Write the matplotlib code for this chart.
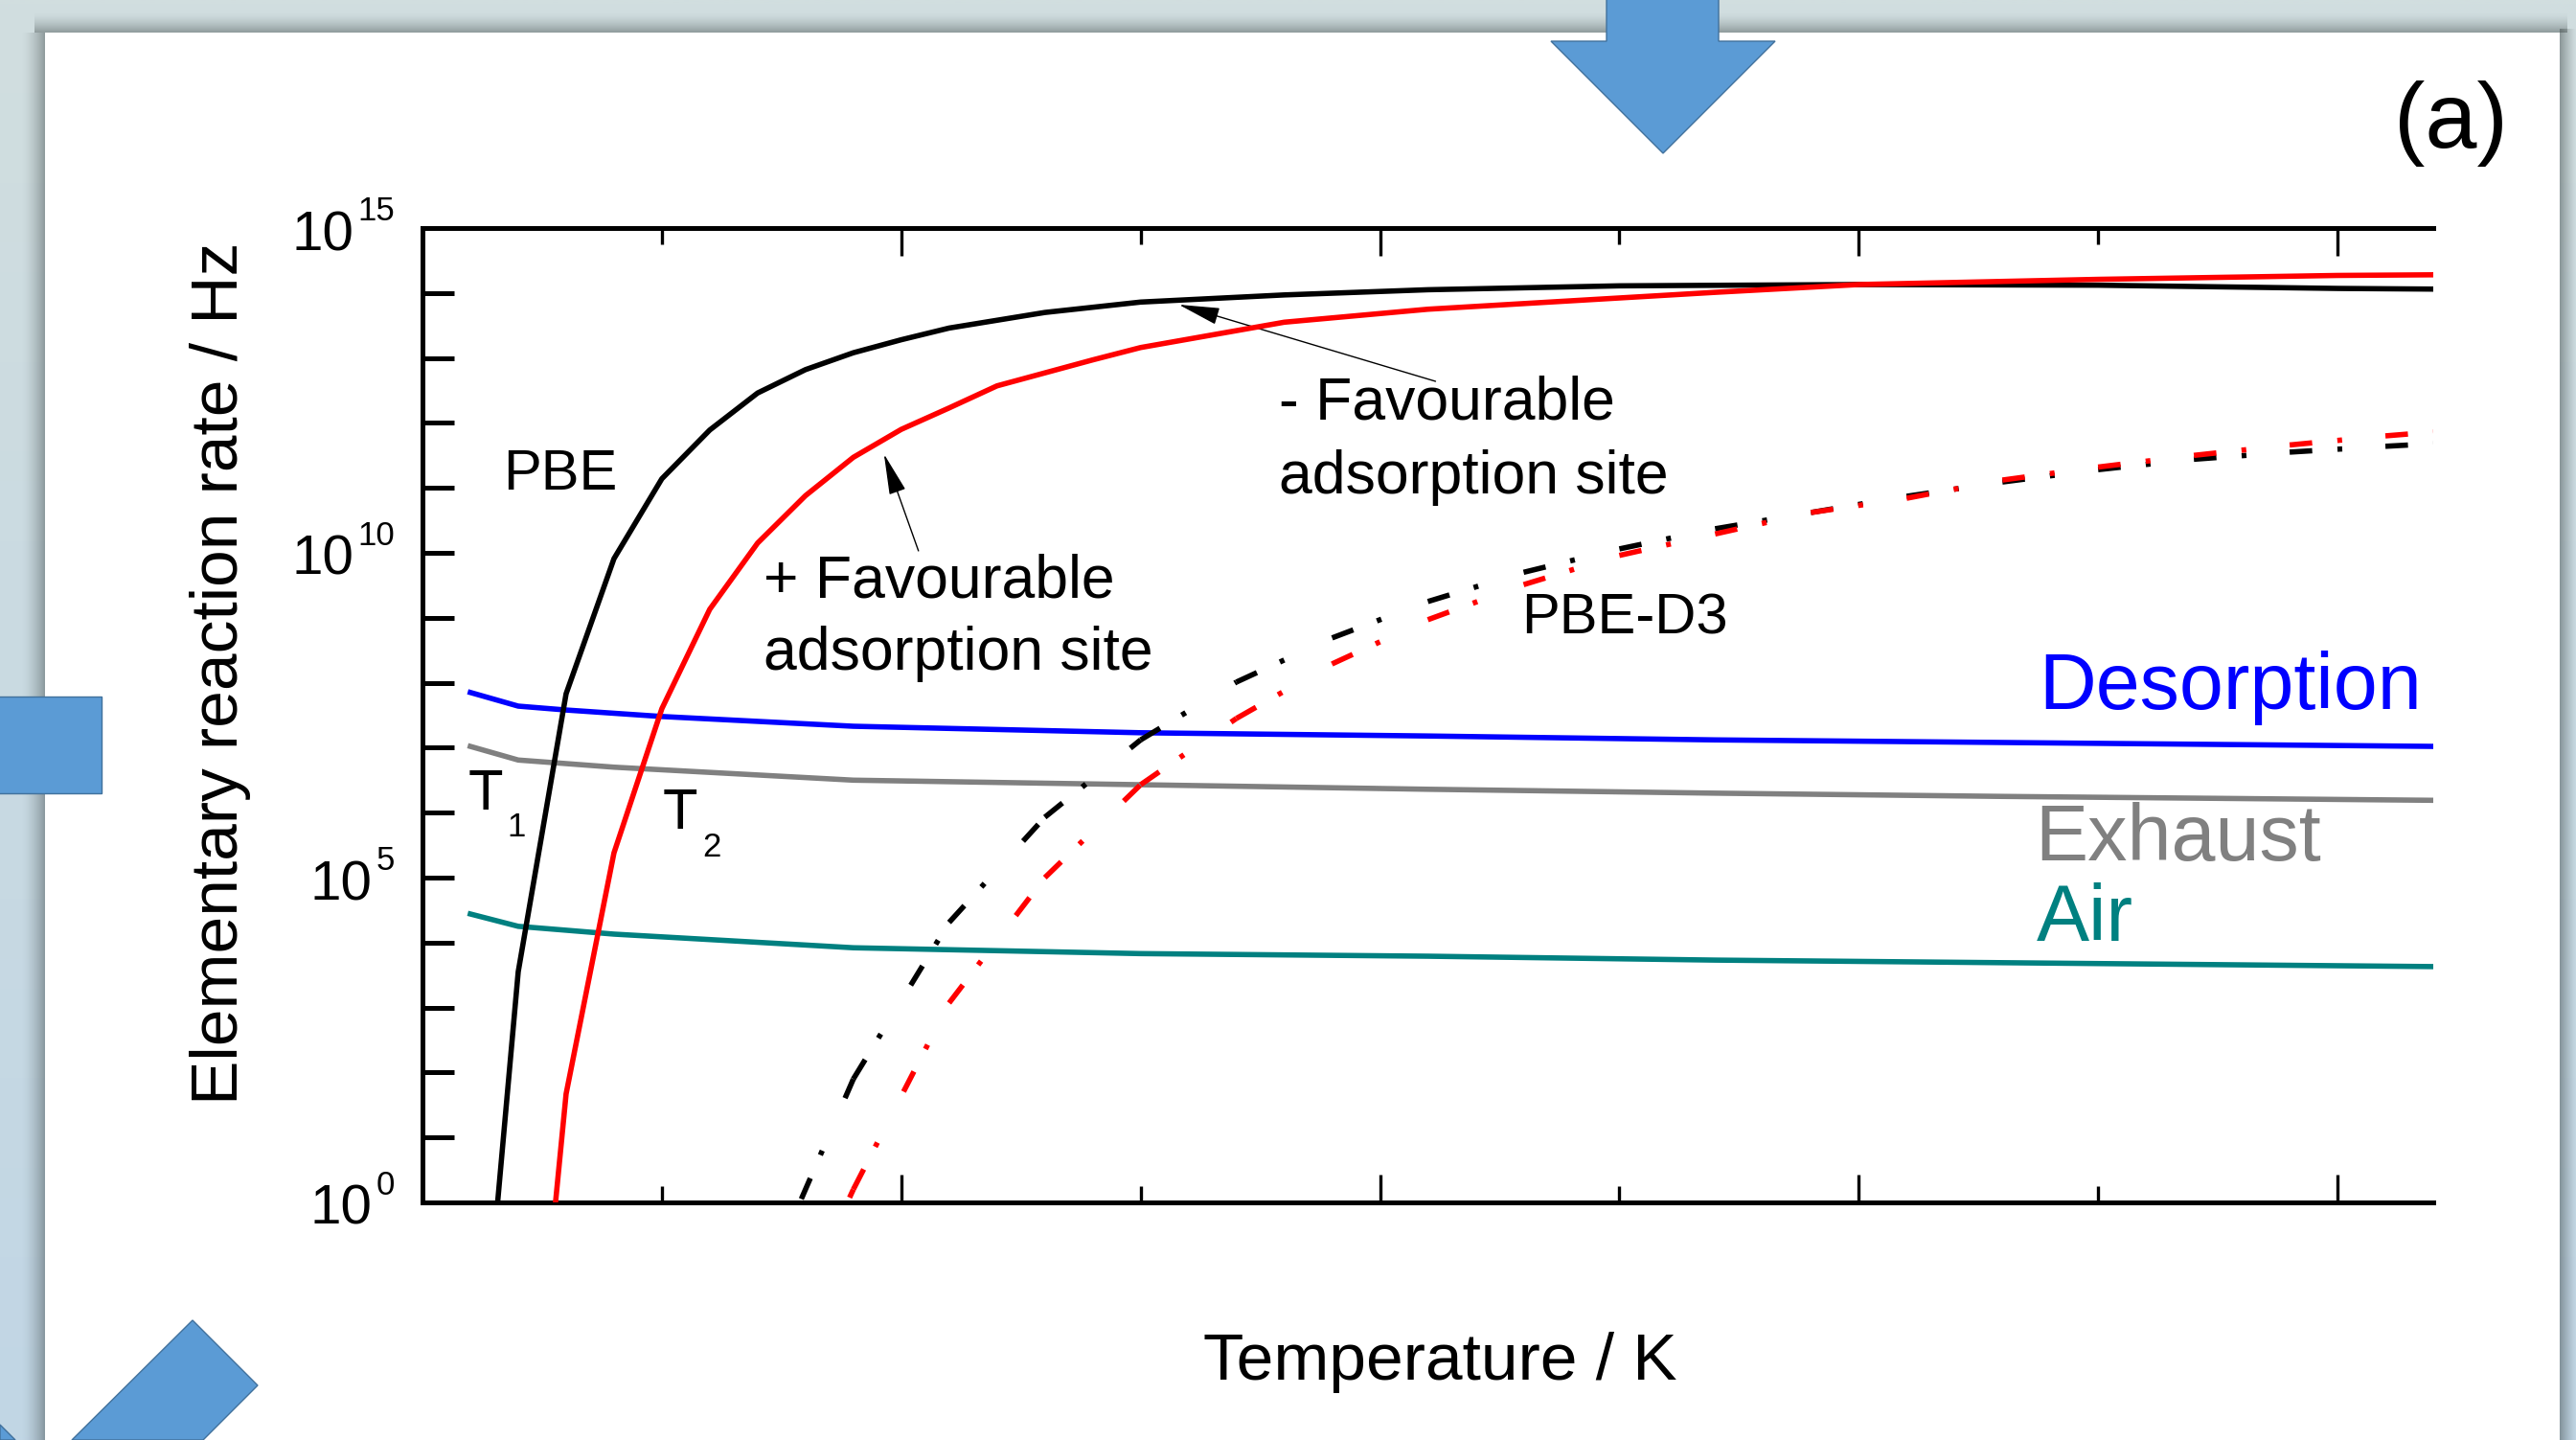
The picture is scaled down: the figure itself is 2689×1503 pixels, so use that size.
import numpy as np
import matplotlib
matplotlib.use("Agg")
import matplotlib.pyplot as plt
from matplotlib.patches import Rectangle, Polygon
from matplotlib.ticker import MultipleLocator, NullLocator, FixedLocator
from matplotlib.transforms import offset_copy

# ---------------- data (temperature in K, rate given as log10 of Hz) ----------------
# PBE, "- favourable adsorption site" (black solid)
T_pbe_minus = [25, 50, 75, 100, 125, 150, 175, 200, 225, 250, 275, 325, 375, 450, 525, 625, 750, 875, 1000, 1050]
lg_pbe_minus = [-4.7, 3.55, 7.83, 9.91, 11.14, 11.89, 12.46, 12.82, 13.08, 13.28, 13.46, 13.70, 13.86,
                13.97, 14.05, 14.11, 14.13, 14.12, 14.07, 14.06]
# PBE, "+ favourable adsorption site" (red solid)
T_pbe_plus = [50, 75, 100, 125, 150, 175, 200, 225, 250, 275, 300, 350, 375, 450, 525, 600, 675, 750, 875, 1000, 1050]
lg_pbe_plus = [-5.9, 1.67, 5.38, 7.60, 9.13, 10.15, 10.88, 11.47, 11.90, 12.23, 12.57, 12.97, 13.16,
               13.55, 13.75, 13.88, 14.01, 14.13, 14.21, 14.27, 14.28]
# PBE-D3 (dash-dot), black = - favourable, red = + favourable
T_d3 = [175, 225, 275, 325, 375, 425, 475, 525, 575, 625, 675, 725, 775, 825, 875, 925, 975, 1025, 1050]
lg_d3_minus = [-1.5, 1.90, 4.31, 5.93, 7.12, 8.01, 8.69, 9.25, 9.70, 10.06, 10.37, 10.62, 10.87,
               11.09, 11.28, 11.44, 11.55, 11.64, 11.68]
lg_d3_plus = [-3.0, 0.20, 3.07, 5.00, 6.43, 7.45, 8.29, 8.97, 9.51, 9.96, 10.29, 10.62, 10.84,
              11.12, 11.32, 11.50, 11.66, 11.80, 11.86]
# reference rates
T_desorption = [25, 50, 75, 125, 225, 375, 525, 675, 825, 1050]
lg_desorption = [7.85, 7.64, 7.58, 7.48, 7.33, 7.23, 7.18, 7.12, 7.08, 7.02]
T_exhaust = [25, 50, 100, 225, 375, 525, 675, 825, 1050]
lg_exhaust = [7.02, 6.81, 6.70, 6.50, 6.43, 6.36, 6.30, 6.25, 6.19]
T_air = [25, 50, 100, 225, 375, 525, 675, 825, 1050]
lg_air = [4.44, 4.25, 4.13, 3.92, 3.83, 3.79, 3.73, 3.69, 3.63]

ytick_exponents = [0, 5, 10, 15]

# ---------------- styling ----------------
W, H = 2689, 1503
plt.rcParams['font.family'] = ['Liberation Sans', 'DejaVu Sans']
plt.rcParams['lines.scale_dashes'] = False

fig = plt.figure(figsize=(W / 100, H / 100), dpi=100)
fig.patch.set_facecolor('#d1dddf')

def fx(x):
    return x / W

def fy(y):
    return 1 - y / H

# slide background gradient
bg_ax = fig.add_axes([0, 0, 1, 1], zorder=-10)
grad = np.zeros((200, 2, 3))
top_c = np.array([209, 222, 223]) / 255
bot_c = np.array([193, 214, 229]) / 255
for i in range(200):
    t = i / 199
    grad[i, :, :] = top_c * (1 - t) + bot_c * t
bg_ax.imshow(grad, aspect='auto', extent=[0, 1, 0, 1], interpolation='bilinear')
bg_ax.axis('off')

shadow_c = (0.18, 0.22, 0.22)
for y0 in range(12, 34):
    a = 0.42 * ((y0 - 12) / 22) ** 1.6
    fig.patches.append(Rectangle((fx(36), fy(y0 + 1)), fx(2680) - fx(36), 1 / H, transform=fig.transFigure,
                                 color=shadow_c, alpha=a, lw=0, zorder=-8))
for x0 in range(22, 47):
    a = 0.42 * ((x0 - 22) / 25) ** 1.6
    fig.patches.append(Rectangle((fx(x0), 0), 1 / W, fy(34), transform=fig.transFigure,
                                 color=shadow_c, alpha=a, lw=0, zorder=-8))
for x0 in range(2672, 2689):
    a = 0.42 * (1 - (x0 - 2672) / 17) ** 1.3
    fig.patches.append(Rectangle((fx(x0), 0), 1 / W, fy(30), transform=fig.transFigure,
                                 color=shadow_c, alpha=a, lw=0, zorder=-8))

# white slide panel
fig.patches.append(Rectangle((fx(47), 0), fx(2672) - fx(47), fy(34), transform=fig.transFigure,
                             facecolor='white', edgecolor='none', zorder=-6))

# decorative blue shapes
blue = '#5b9bd5'
edge = '#41719c'
shapes = [
    [(1677, -5), (1794, -5), (1794, 43), (1853, 43), (1736, 160), (1619, 43), (1677, 43)],
    [(-5, 727), (106, 727), (106, 828), (-5, 828)],
    [(75, 1503), (201, 1378), (269, 1446), (212, 1503)],
    [(0, 1487), (16, 1503), (0, 1503)],
]
for pts in shapes:
    fig.patches.append(Polygon([(fx(x), fy(y)) for x, y in pts], closed=True, transform=fig.transFigure,
                               facecolor=blue, edgecolor=edge, lw=1, zorder=5))

# ---------------- axes ----------------
ax = fig.add_axes([fx(441), fy(1255), fx(2540) - fx(441), fy(238) - fy(1255)], zorder=0)
ax.set_yscale('log')
ax.set_xlim(0, 1050)
ax.set_ylim(1, 1e15)

lw = 4.0
ax.plot(T_desorption, 10 ** np.array(lg_desorption), color='#0000ff', lw=lw, zorder=2)
ax.plot(T_exhaust, 10 ** np.array(lg_exhaust), color='#808080', lw=lw, zorder=2)
ax.plot(T_air, 10 ** np.array(lg_air), color='#008080', lw=lw, zorder=2)

ax.plot(T_pbe_minus, 10 ** np.array(lg_pbe_minus), color='black', lw=lw, zorder=3)
ax.plot(T_pbe_plus, 10 ** np.array(lg_pbe_plus), color='#ff0000', lw=lw, zorder=4)

dash_dot = (0, (17, 19, 3.6, 43))
for lg, col, z in [(lg_d3_minus, 'black', 3), (lg_d3_plus, '#ff0000', 4)]:
    r = 10 ** np.array(lg)
    for i in range(len(T_d3) - 1):
        ax.plot(T_d3[i:i + 2], r[i:i + 2], color=col, lw=lw, ls=dash_dot,
                dash_capstyle='butt', zorder=z)

# spines & ticks
for s in ['left', 'bottom', 'top']:
    ax.spines[s].set_linewidth(3.6)
ax.spines['right'].set_visible(False)

ax.xaxis.set_major_locator(MultipleLocator(250))
ax.xaxis.set_minor_locator(MultipleLocator(125))
ax.yaxis.set_major_locator(FixedLocator([10.0 ** k for k in range(16)]))
ax.yaxis.set_minor_locator(NullLocator())
ax.tick_params(axis='x', which='major', direction='in', length=21, width=2.4,
               top=True, bottom=True, labelbottom=False, labeltop=False)
ax.tick_params(axis='x', which='minor', direction='in', length=12, width=2.4, top=True, bottom=True)
ax.tick_params(axis='y', which='major', direction='in', length=24, width=3.6,
               left=True, right=False, labelleft=False)

# y tick labels: "10" with superscript exponent
ytr = ax.get_yaxis_transform()
for k in ytick_exponents:
    n = len(str(k))
    main_right = 412 - 4 - n * 19.3
    ax.text(0, 10.0 ** k, '10', fontsize=42, ha='right', va='baseline',
            transform=offset_copy(ytr, fig=fig, x=main_right - 441, y=-23, units='dots'), clip_on=False)
    ax.text(0, 10.0 ** k, str(k), fontsize=25, ha='left', va='baseline',
            transform=offset_copy(ytr, fig=fig, x=main_right + 4 - 441, y=8, units='dots'), clip_on=False)

ax.set_xlabel('Temperature / K', fontsize=50)
ax.xaxis.set_label_coords(0.506, -0.182)
ax.xaxis.label.set_va('baseline')
ax.set_ylabel('Elementary reaction rate / Hz', fontsize=50)
ax.yaxis.set_label_coords(-0.0919, 0.543)
ax.yaxis.label.set_va('baseline')

# annotations
fs = 43
fs_fav = 45
ax.text(42, 10 ** 10.97, 'PBE', fontsize=fs)
ax.text(178, 10 ** 9.32, '+ Favourable', fontsize=fs_fav)
ax.text(178, 10 ** 8.20, 'adsorption site', fontsize=fs_fav)
ax.text(447, 10 ** 12.06, '- Favourable', fontsize=fs_fav)
ax.text(447, 10 ** 10.91, 'adsorption site', fontsize=fs_fav)
ax.text(574, 10 ** 8.75, 'PBE-D3', fontsize=fs)
ax.text(24, 10 ** 6.05, 'T', fontsize=fs)
ax.text(44, 10 ** 5.63, '1', fontsize=25)
ax.text(125.5, 10 ** 5.75, 'T', fontsize=fs)
ax.text(146, 10 ** 5.32, '2', fontsize=25)
ax.text(844, 10 ** 7.60, 'Desorption', fontsize=59.5, color='#0000ff')
ax.text(842, 10 ** 5.27, 'Exhaust', fontsize=59.5, color='#808080')
ax.text(843, 10 ** 4.03, 'Air', fontsize=59.5, color='#008080')

arrow_kw = dict(arrowstyle='-|>,head_length=1.35,head_width=0.28', mutation_scale=20,
                color='black', lw=1.0, shrinkA=0, shrinkB=0)
ax.annotate('', xy=(241, 10 ** 11.52), xytext=(259, 10 ** 10.03), arrowprops=arrow_kw)
ax.annotate('', xy=(395, 10 ** 13.82), xytext=(529, 10 ** 12.64), arrowprops=arrow_kw)

fig.text(fx(2558), fy(154), '(a)', fontsize=70, ha='center', va='baseline')

fig.savefig('out.png', dpi=100, facecolor=fig.get_facecolor())
